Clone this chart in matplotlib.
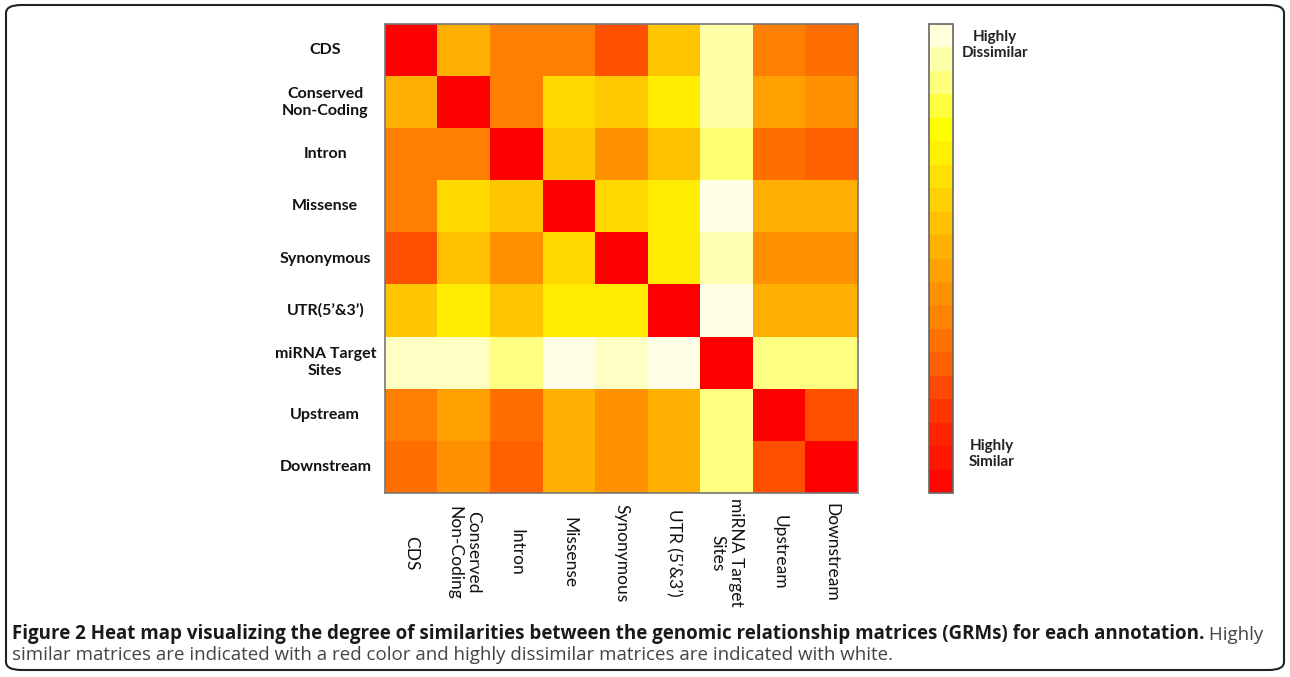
import numpy as np
import matplotlib
matplotlib.use("Agg")
import matplotlib.pyplot as plt
from matplotlib.colors import LinearSegmentedColormap
from matplotlib.patches import FancyBboxPatch

row_labels = ["CDS", "Conserved\nNon-Coding", "Intron", "Missense", "Synonymous",
              "UTR(5\u2019&3\u2019)", "miRNA Target\nSites", "Upstream", "Downstream"]
col_labels = ["CDS", "Conserved\nNon-Coding", "Intron", "Missense", "Synonymous",
              "UTR (5\u2019&3\u2019)", "miRNA Target\nSites", "Upstream", "Downstream"]

# dissimilarity (0 = highly similar / red, 1 = highly dissimilar / white)
row_cds        = [0.00, 0.52, 0.37, 0.37, 0.24, 0.59, 0.92, 0.37, 0.32]
row_conserved  = [0.52, 0.00, 0.37, 0.65, 0.60, 0.71, 0.92, 0.47, 0.42]
row_intron     = [0.37, 0.37, 0.00, 0.59, 0.42, 0.58, 0.87, 0.32, 0.28]
row_missense   = [0.37, 0.65, 0.59, 0.00, 0.65, 0.71, 0.99, 0.52, 0.52]
row_synonymous = [0.24, 0.58, 0.42, 0.65, 0.00, 0.71, 0.93, 0.42, 0.42]
row_utr        = [0.59, 0.71, 0.59, 0.71, 0.71, 0.00, 0.99, 0.52, 0.52]
row_mirna      = [0.95, 0.95, 0.88, 0.99, 0.95, 0.99, 0.00, 0.88, 0.88]
row_upstream   = [0.37, 0.47, 0.32, 0.52, 0.42, 0.52, 0.88, 0.00, 0.24]
row_downstream = [0.32, 0.42, 0.28, 0.52, 0.42, 0.52, 0.88, 0.24, 0.00]

matrix = np.array([row_cds, row_conserved, row_intron, row_missense, row_synonymous,
                   row_utr, row_mirna, row_upstream, row_downstream])

cmap = LinearSegmentedColormap.from_list("simheat", [
    (0.00, "#FF0000"), (0.15, "#FF2A00"), (0.30, "#FF6A00"), (0.45, "#FF9A00"),
    (0.55, "#FFB800"), (0.65, "#FFD800"), (0.72, "#FFF000"), (0.78, "#FFFF00"),
    (0.88, "#FFFF80"), (1.00, "#FFFFF0")])

fig = plt.figure(figsize=(12.9, 6.77), dpi=100)
W, H = 1290, 677

# rounded frame
frame = FancyBboxPatch((6 / W, 7 / H), (1278) / W, (665) / H,
                       boxstyle="round,pad=0,rounding_size=0.012",
                       transform=fig.transFigure, fill=False,
                       edgecolor="#222222", linewidth=1.5)
fig.patches.append(frame)

ax = fig.add_axes([385 / W, 1 - 493 / H, 473 / W, 469 / H])
im = ax.imshow(matrix, cmap=cmap, vmin=0, vmax=1, aspect="auto", interpolation="nearest")
ax.set_xticks(range(len(col_labels)))
ax.set_yticks(range(len(row_labels)))
ax.set_xticklabels(col_labels, rotation=270, fontfamily="Lato", fontsize=12.5,
                   va="center", ha="center", linespacing=1.2, color="#111111")
ax.set_yticklabels(row_labels, fontfamily="Lato", fontweight="bold", fontsize=11.5,
                   ha="center", va="center", linespacing=1.25, color="#111111")
ax.tick_params(axis="x", length=0, pad=43)
ax.tick_params(axis="y", length=0, pad=43)
for s in ax.spines.values():
    s.set_edgecolor("#777777")
    s.set_linewidth(1.2)

cax = fig.add_axes([929 / W, 1 - 493 / H, 24 / W, 469 / H])
bounds = np.linspace(0, 1, 21)
cb = fig.colorbar(im, cax=cax, boundaries=bounds, values=(bounds[:-1] + bounds[1:]) / 2)
cb.set_ticks([])
cb.outline.set_edgecolor("#666666")
cb.outline.set_linewidth(1.2)

fig.text(995 / W, 1 - 45 / H, "Highly\nDissimilar", ha="center", va="center",
         fontfamily="Lato", fontweight="bold", fontsize=11, linespacing=1.15,
         color="#222222")
fig.text(992 / W, 1 - 454 / H, "Highly\nSimilar", ha="center", va="center",
         fontfamily="Lato", fontweight="bold", fontsize=11, linespacing=1.15,
         color="#222222")

cap1 = fig.text(12 / W, 1 - 634 / H,
                "Figure 2 Heat map visualizing the degree of similarities between the genomic relationship matrices (GRMs) for each annotation.",
                ha="left", va="center", fontfamily="Open Sans", fontweight="bold",
                fontsize=13.5, color="#1a1a1a")
ax.annotate(" Highly", xy=(1, 0), xycoords=cap1, ha="left", va="bottom",
            fontfamily="Open Sans", fontsize=13.5, color="#444444", annotation_clip=False)
fig.text(12 / W, 1 - 655 / H,
         "similar matrices are indicated with a red color and highly dissimilar matrices are indicated with white.",
         ha="left", va="center", fontfamily="Open Sans", fontsize=13.5, color="#444444")

fig.savefig("out.png", dpi=100)
